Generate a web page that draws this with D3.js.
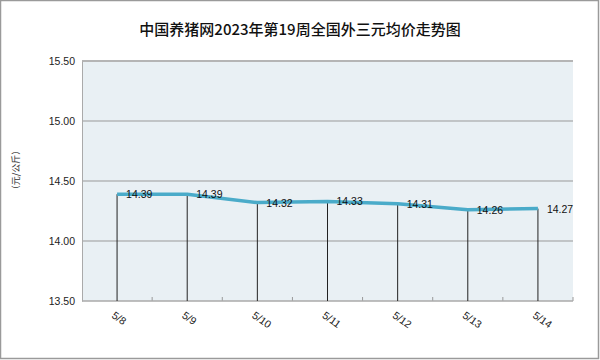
<!DOCTYPE html>
<html>
<head>
<meta charset="utf-8">
<script src="https://cdn.jsdelivr.net/npm/d3@7"></script>
<style>
  body { margin: 0; background: #fff; }
  svg { display: block; font-family: "Liberation Sans", "Noto Sans CJK SC", sans-serif; }
</style>
</head>
<body>
<script>
const days = ["5/8", "5/9", "5/10", "5/11", "5/12", "5/13", "5/14"];
const prices = [14.39, 14.39, 14.32, 14.33, 14.31, 14.26, 14.27];
const yTicks = [13.5, 14.0, 14.5, 15.0, 15.5];

const W = 600, H = 360;
const margin = {left: 82, right: 27, top: 61, bottom: 59};
const width = W - margin.left - margin.right;
const height = H - margin.top - margin.bottom;

const svg = d3.select("body").append("svg").attr("width", W).attr("height", H);

// outer frame
svg.append("rect").attr("x", 0.5).attr("y", 0.5).attr("width", W - 2).attr("height", H - 2)
  .attr("fill", "#fff").attr("stroke", "#9a9a9a").attr("stroke-width", 1.5);

svg.append("text").attr("x", 300).attr("y", 35).attr("text-anchor", "middle")
  .attr("font-family", "'Noto Sans CJK SC', sans-serif").attr("font-size", 15).attr("font-weight", 500)
  .attr("fill", "#111").text("中国养猪网2023年第19周全国外三元均价走势图");

const x = d3.scaleBand().domain(days).range([0, width]);
const y = d3.scaleLinear().domain([13.5, 15.5]).range([height, 0]);
const cx = d => x(d) + x.bandwidth() / 2;

const g = svg.append("g").attr("transform", "translate(" + margin.left + "," + margin.top + ")");

g.append("rect").attr("width", width).attr("height", height).attr("fill", "#e9f0f4");

// gridlines
g.append("g").selectAll("line").data(yTicks.slice(1, -1)).join("line")
  .attr("x1", 0).attr("x2", width).attr("y1", d => y(d)).attr("y2", d => y(d))
  .attr("stroke", "#999").attr("stroke-width", 1);

// top border of plot
g.append("line").attr("x1", 0).attr("x2", width).attr("y1", 0).attr("y2", 0)
  .attr("stroke", "#b5b5b5").attr("stroke-width", 2);

// y axis
const yAxis = d3.axisLeft(y).tickValues(yTicks).tickFormat(d3.format(".2f")).tickSize(0).tickPadding(7);
const ya = g.append("g").call(yAxis);
ya.select(".domain").attr("stroke", "#aaa");
ya.selectAll("text").attr("font-size", 10.5).attr("fill", "#222");

// x axis with minor ticks at boundaries
const bounds = days.map(d => x(d)).concat([width]);
g.append("g").selectAll("line").data(bounds.slice(1)).join("line")
  .attr("x1", d => d).attr("x2", d => d).attr("y1", height).attr("y2", height - 4)
  .attr("stroke", "#999");
g.append("line").attr("x1", 0).attr("x2", width).attr("y1", height).attr("y2", height)
  .attr("stroke", "#aaa").attr("stroke-width", 1.5);

g.append("g").selectAll("text").data(days).join("text")
  .attr("transform", d => "translate(" + (cx(d) - 6) + "," + (height + 16) + ") rotate(35)")
  .attr("font-size", 10.5).attr("fill", "#222").text(d => d);

// drop lines
g.append("g").selectAll("line").data(days).join("line")
  .attr("x1", d => cx(d)).attr("x2", d => cx(d))
  .attr("y1", (d, i) => y(prices[i])).attr("y2", height)
  .attr("stroke", "#222").attr("stroke-width", 1);

const line = d3.line().x((d, i) => cx(days[i])).y(d => y(d));
g.append("path").attr("d", line(prices)).attr("fill", "none")
  .attr("stroke", "#4aabc9").attr("stroke-width", 3.5).attr("stroke-linejoin", "round");

g.append("g").selectAll("text").data(prices).join("text")
  .attr("x", (d, i) => cx(days[i]) + 9).attr("y", d => y(d) + 4)
  .attr("font-size", 10.5).attr("fill", "#111").text(d => d.toFixed(2));

// y label
svg.append("text").attr("transform", "translate(19,170) rotate(-90)").attr("text-anchor", "middle")
  .attr("font-family", "'Noto Sans CJK SC', sans-serif").attr("font-size", 9).attr("fill", "#333")
  .text("（元/公斤）");
</script>
</body>
</html>
